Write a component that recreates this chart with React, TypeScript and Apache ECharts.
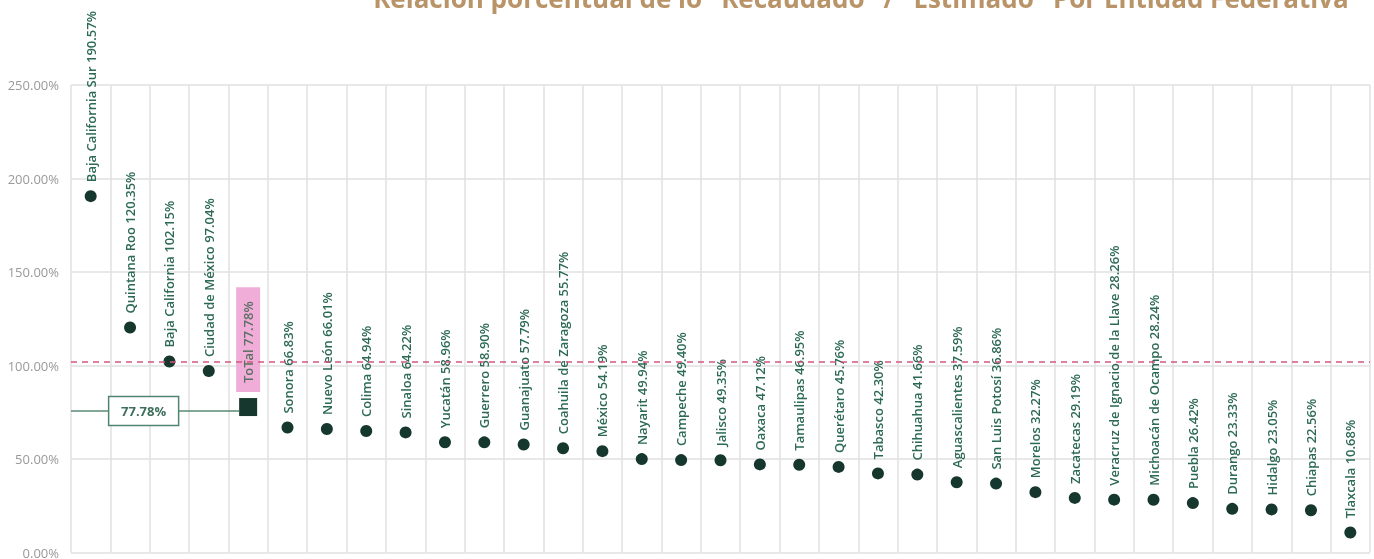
import React, { useEffect, useRef } from "react";
import * as echarts from "echarts";

const categories = [
  "Baja California Sur", "Quintana Roo", "Baja California", "Ciudad de México", "ToTal",
  "Sonora", "Nuevo León", "Colima", "Sinaloa", "Yucatán", "Guerrero", "Guanajuato",
  "Coahuila de Zaragoza", "México", "Nayarit", "Campeche", "Jalisco", "Oaxaca",
  "Tamaulipas", "Querétaro", "Tabasco", "Chihuahua", "Aguascalientes", "San Luis Potosí",
  "Morelos", "Zacatecas", "Veracruz de Ignacio de la Llave", "Michoacán de Ocampo",
  "Puebla", "Durango", "Hidalgo", "Chiapas", "Tlaxcala",
];
const values = [
  190.57, 120.35, 102.15, 97.04, 77.78,
  66.83, 66.01, 64.94, 64.22, 58.96, 58.9, 57.79,
  55.77, 54.19, 49.94, 49.4, 49.35, 47.12,
  46.95, 45.76, 42.3, 41.66, 37.59, 36.86,
  32.27, 29.19, 28.26, 28.24,
  26.42, 23.33, 23.05, 22.56, 10.68,
];
const totalName = "ToTal";
const referenceValue = 102;
const yMin = 0;
const yMax = 250;
const yInterval = 50;
const titleText = "Relación porcentual de lo \"Recaudado\" / \"Estimado\" Por Entidad Federativa";

const FONT = "'Open Sans', sans-serif";
const GRID_LEFT = 71;

export default function App() {
  const ref = useRef<HTMLDivElement>(null);
  useEffect(() => {
    const chart = echarts.init(ref.current!, null, { renderer: "svg" });
    const totalIndex = categories.indexOf(totalName);
    const data = values.map((v, i) =>
      i === totalIndex
        ? {
            value: v,
            symbol: "rect",
            symbolSize: 18,
            label: {
              backgroundColor: "#efadd8",
              color: "#5c6f63",
              padding: [6, 14, 5, 9],
              distance: 6,
            },
          }
        : { value: v }
    );
    chart.setOption({
      animation: false,
      grid: { left: GRID_LEFT, right: 4, top: 85, bottom: 6, containLabel: false },
      xAxis: {
        type: "category",
        data: categories,
        boundaryGap: true,
        axisLine: { show: false },
        axisTick: { show: false, interval: 0 },
        axisLabel: { show: false, interval: 0 },
        splitLine: { show: true, interval: 0, lineStyle: { color: "#e0e0e0", width: 1.5 } },
      },
      yAxis: {
        type: "value",
        min: yMin,
        max: yMax,
        interval: yInterval,
        axisLine: { show: false },
        axisTick: { show: false },
        axisLabel: {
          formatter: (v: number) => v.toFixed(2) + "%",
          color: "#999999",
          fontSize: 13,
          fontFamily: FONT,
          margin: 12,
        },
        splitLine: { show: true, lineStyle: { color: "#e0e0e0", width: 1.5 } },
      },
      series: [
        {
          type: "scatter",
          data,
          symbol: "circle",
          symbolSize: 12,
          itemStyle: { color: "#16372d", opacity: 1 },
          label: {
            show: true,
            position: "top",
            rotate: 90,
            align: "left",
            verticalAlign: "middle",
            distance: 8,
            color: "#2d6a55",
            fontFamily: FONT,
            fontWeight: 600,
            fontSize: 13,
            formatter: (p: any) => `${p.name} ${Number(p.value).toFixed(2)}%`,
          },
          markLine: {
            silent: true,
            symbol: "none",
            label: { show: false },
            lineStyle: { color: "#d4587f", type: [6, 5], width: 1.5 },
            data: [{ yAxis: referenceValue }],
          },
          z: 3,
        },
      ],
    });

    const p = chart.convertToPixel({ gridIndex: 0 }, [totalIndex, values[totalIndex]]) as number[];
    const lineY = p[1] + 4;
    const boxW = 70;
    const boxH = 29;
    const boxCx = GRID_LEFT + (p[0] - GRID_LEFT) * 0.41;
    chart.setOption({
      graphic: [
        {
          type: "text",
          x: 861,
          y: -2,
          style: {
            text: titleText,
            fill: "#b99468",
            font: `bold 26px ${FONT}`,
            textAlign: "center",
            textVerticalAlign: "middle",
          },
          z: 10,
        },
        {
          type: "line",
          shape: { x1: GRID_LEFT, y1: lineY, x2: p[0] - 9, y2: lineY },
          style: { stroke: "#5a8a75", lineWidth: 1.5 },
          z: 5,
        },
        {
          type: "rect",
          shape: { x: boxCx - boxW / 2, y: lineY - boxH / 2, width: boxW, height: boxH },
          style: { fill: "#ffffff", stroke: "#4f8470", lineWidth: 1.5 },
          z: 6,
        },
        {
          type: "text",
          x: boxCx,
          y: lineY,
          style: {
            text: `${values[totalIndex].toFixed(2)}%`,
            fill: "#3e6f5c",
            font: `bold 13px ${FONT}`,
            textAlign: "center",
            textVerticalAlign: "middle",
          },
          z: 7,
        },
      ],
    });
    return () => chart.dispose();
  }, []);
  return (
    <div
      ref={ref}
      style={{ position: "fixed", left: 0, top: 0, width: 1374, height: 559 }}
    />
  );
}
